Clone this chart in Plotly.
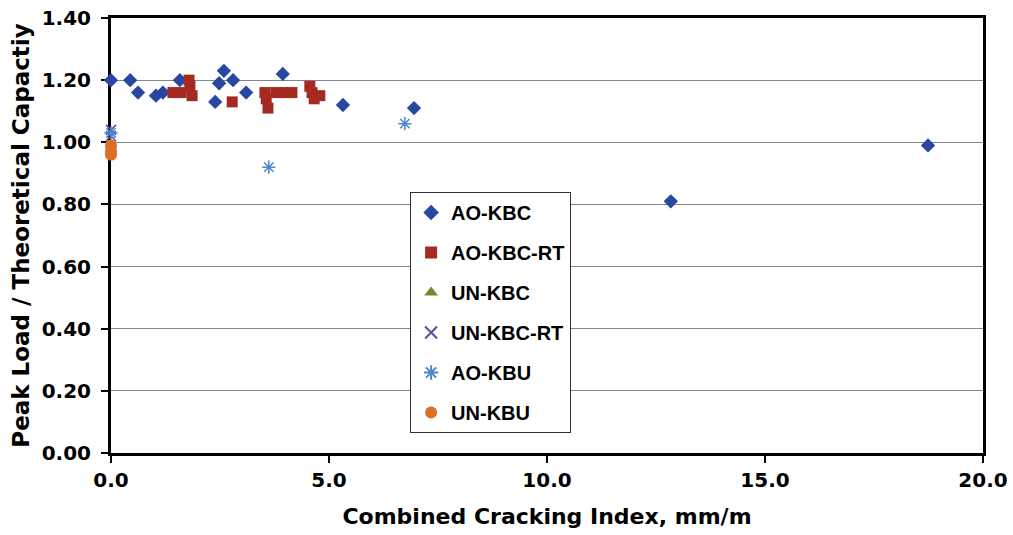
import plotly.graph_objects as go

# ---- data ----
ao_kbc_x = [0.0, 0.44, 0.62, 1.03, 1.19, 1.58, 2.39, 2.48, 2.59, 2.80, 3.10, 3.94, 5.32, 6.95, 12.84, 18.74]
ao_kbc_y = [1.20, 1.20, 1.16, 1.15, 1.16, 1.20, 1.13, 1.19, 1.23, 1.20, 1.16, 1.22, 1.12, 1.11, 0.81, 0.99]

ao_kbc_rt_x = [1.42, 1.61, 1.79, 1.81, 1.86, 2.78, 3.53, 3.56, 3.60, 3.78, 3.97, 4.15, 4.56, 4.61, 4.66, 4.79]
ao_kbc_rt_y = [1.16, 1.16, 1.20, 1.18, 1.15, 1.13, 1.16, 1.14, 1.11, 1.16, 1.16, 1.16, 1.18, 1.16, 1.14, 1.15]

un_kbc_x = [0.0]
un_kbc_y = [0.99]

un_kbc_rt_x = [0.0, 0.0]
un_kbc_rt_y = [1.04, 1.02]

ao_kbu_x = [0.0, 3.62, 6.74]
ao_kbu_y = [1.03, 0.92, 1.06]

un_kbu_x = [0.0, 0.0, 0.0]
un_kbu_y = [0.99, 0.97, 0.96]

x_ticks = [0, 5, 10, 15, 20]
y_ticks = [0.0, 0.2, 0.4, 0.6, 0.8, 1.0, 1.2, 1.4]

FONT = "DejaVu Sans"

series = [
    ("AO-KBC", ao_kbc_x, ao_kbc_y, dict(symbol="diamond", size=11, color="#2747A0")),
    ("AO-KBC-RT", ao_kbc_rt_x, ao_kbc_rt_y, dict(symbol="square", size=11, color="#A52A22")),
    ("UN-KBC", un_kbc_x, un_kbc_y, dict(symbol="triangle-up", size=10, color="#6E8A2A")),
    ("UN-KBC-RT", un_kbc_rt_x, un_kbc_rt_y, dict(symbol="x-thin-open", size=10, color="#5A4FA0",
                                                line=dict(width=1.5, color="#5A4FA0"))),
    ("AO-KBU", ao_kbu_x, ao_kbu_y, dict(symbol="asterisk-open", size=11, color="#4A86C8",
                                        line=dict(width=1.5, color="#4A86C8"))),
    ("UN-KBU", un_kbu_x, un_kbu_y, dict(symbol="circle", size=12, color="#DD6E22")),
]

fig = go.Figure()
for name, xs, ys, mk in series:
    fig.add_trace(go.Scatter(x=xs, y=ys, mode="markers", name=name, marker=mk,
                             legendgroup=name, cliponaxis=False))

fig.update_layout(
    width=1013, height=535,
    paper_bgcolor="white", plot_bgcolor="white",
    margin=dict(l=111, r=30, t=18, b=82, autoexpand=False),
    font=dict(family=FONT, color="black"),
    showlegend=True,
    legend=dict(
        x=0.343, y=0.60, xanchor="left", yanchor="top",
        bgcolor="white", bordercolor="#333333", borderwidth=1,
        font=dict(family="Liberation Sans", size=20, color="black", weight="bold"),
        tracegroupgap=11, traceorder="grouped",
        itemsizing="constant", itemwidth=30,
    ),
    xaxis=dict(
        range=[0, 20], tickvals=x_ticks, tickformat=".1f",
        showgrid=False, zeroline=False, automargin=False,
        showline=True, linecolor="black", linewidth=3, mirror=True,
        ticks="outside", ticklen=7, tickwidth=2, tickcolor="black",
        tickfont=dict(family=FONT, size=20, weight="bold"),
        title=dict(text="Combined Cracking Index, mm/m",
                   font=dict(family=FONT, size=22, weight="bold"), standoff=18),
        layer="below traces",
    ),
    yaxis=dict(
        range=[0, 1.4], tickvals=y_ticks, tickformat=".2f",
        showgrid=True, gridcolor="#85858f", gridwidth=1, zeroline=False, automargin=False,
        showline=True, linecolor="black", linewidth=3, mirror=True,
        ticks="outside", ticklen=7, tickwidth=2, tickcolor="black",
        ticklabelstandoff=6,
        tickfont=dict(family=FONT, size=20, weight="bold"),
        title=dict(text="Peak Load / Theoretical Capactiy",
                   font=dict(family=FONT, size=23, weight="bold"), standoff=6),
        layer="below traces",
    ),
    yaxis2=dict(
        range=[0, 1.4], tickvals=y_ticks, overlaying="y", side="left",
        showticklabels=False, showgrid=False, zeroline=False, showline=False,
        ticks="inside", ticklen=7, tickwidth=1, tickcolor="black",
    ),
)

fig.write_html("out.html", config={"displayModeBar": False},
               post_script="document.body.style.margin='0';document.body.style.overflow='hidden';")
